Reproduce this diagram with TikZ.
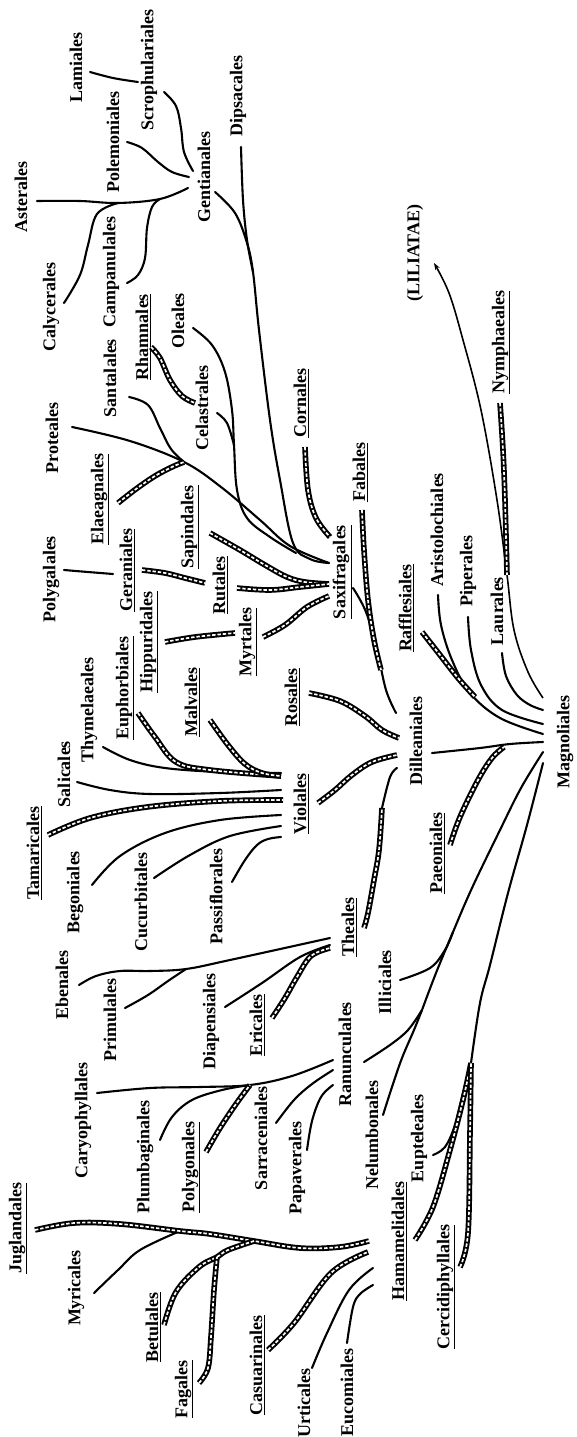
\documentclass[tikz,border=0pt]{standalone}
\usepackage{fontspec}
\setmainfont{Liberation Serif}
\usetikzlibrary{arrows.meta}
\begin{document}
\begin{tikzpicture}[x=1pt,y=-1pt,
  lbl/.style={font=\fontsize{18}{20}\selectfont\bfseries, rotate=90, inner sep=0pt},
  branch/.style={line width=2.1pt, line cap=round, line join=round},
  ladder/.style={line width=5.6pt, line join=round,
    postaction={draw=white, line width=1.7pt, dash pattern=on 3.4pt off 1.9pt}},
  sm/.style={smooth, tension=0.6}
]
\useasboundingbox (0,0) rectangle (576,1437);

% ---------------- order names ----------------
\node[lbl] (Lam) at (76,68) {Lamiales};
\node[lbl] (Scr) at (149,70) {Scrophulariales};
\node[lbl] (Pol) at (113,142) {Polemoniales};
\node[lbl] (Ast) at (21,197) {Asterales};
\node[lbl] (Gen) at (204,177) {Gentianales};
\node[lbl] (Dip) at (238,96) {Dipsacales};
\node[lbl] (Lil) at (415,253) {(LILIATAE)};
\node[lbl] (Cal) at (51,307) {Calycerales};
\node[lbl] (Cam) at (111,272) {Campanulales};
\node[lbl] (San) at (110,378) {Santalales};
\node[lbl] (Rha) at (143,337) {\underline{Rhamnales}};
\node[lbl] (Ole) at (178,321) {Oleales};
\node[lbl] (Cel) at (202,408) {Celastrales};
\node[lbl] (Pro) at (52,438) {Proteales};
\node[lbl] (Cor) at (301,403) {\underline{Cornales}};
\node[lbl] (Nym) at (501,342) {\underline{Nymphaeales}};
\node[lbl] (Ela) at (100,499) {\underline{Elaeagnales}};
\node[lbl] (Pga) at (51,579) {Polygalales};
\node[lbl] (Ger) at (127,570) {\underline{Geraniales}};
\node[lbl] (Sap) at (190,527) {\underline{Sapindales}};
\node[lbl] (Rut) at (220,585) {\underline{Rutales}};
\node[lbl] (Hip) at (149,642) {\underline{Hippuridales}};
\node[lbl] (Myr) at (248,642) {\underline{Myrtales}};
\node[lbl] (Sax) at (342,572) {\underline{Saxifragales}};
\node[lbl] (Fab) at (360,472) {\underline{Fabales}};
\node[lbl] (Ari) at (437,530) {Aristolochiales};
\node[lbl] (Raf) at (406,608) {\underline{Rafflesiales}};
\node[lbl] (Pip) at (468,571) {Piperales};
\node[lbl] (Lau) at (497,611) {Laurales};
\node[lbl] (Mag) at (565,742) {Magnoliales};
\node[lbl] (Dil) at (416,741) {Dilleaniales};
\node[lbl] (Pae) at (437,853) {\underline{Paeoniales}};
\node[lbl] (Thy) at (89,710) {Thymelaeales};
\node[lbl] (Eub) at (125,688) {\underline{Euphorbiales}};
\node[lbl] (Mal) at (192,702) {\underline{Malvales}};
\node[lbl] (Ros) at (292,697) {\underline{Rosales}};
\node[lbl] (Sal) at (64,774) {Salicales};
\node[lbl] (Tam) at (34,853) {\underline{Tamaricales}};
\node[lbl] (Beg) at (75,892) {Begoniales};
\node[lbl] (Cuc) at (141,902) {Cucurbitales};
\node[lbl] (Pas) at (216,896) {Passiflorales};
\node[lbl] (Vio) at (301,804) {\underline{Violales}};
\node[lbl] (The) at (349,927) {\underline{Theales}};
\node[lbl] (Ebe) at (62,985) {Ebenales};
\node[lbl] (Pri) at (110,1020) {Primulales};
\node[lbl] (Dia) at (211,1021) {Diapensiales};
\node[lbl] (Eri) at (257,1025) {\underline{Ericales}};
\node[lbl] (Ill) at (385,982) {Illiciales};
\node[lbl] (Ran) at (345,1054) {Ranunculales};
\node[lbl] (Nel) at (372,1135) {Nelumbonales};
\node[lbl] (Car) at (83,1120) {Caryophyllales};
\node[lbl] (Plu) at (145,1157) {Plumbaginales};
\node[lbl] (Pgo) at (191,1167) {\underline{Polygonales}};
\node[lbl] (Sar) at (261,1138) {Sarraceniales};
\node[lbl] (Pap) at (297,1168) {Papaverales};
\node[lbl] (Eup) at (419,1138) {Eupteleales};
\node[lbl] (Jug) at (18,1228) {\underline{Juglandales}};
\node[lbl] (Myc) at (76,1288) {Myricales};
\node[lbl] (Bet) at (153,1327) {\underline{Betulales}};
\node[lbl] (Fag) at (184,1389) {\underline{Fagales}};
\node[lbl] (Cas) at (257,1365) {\underline{Casuarinales}};
\node[lbl] (Urt) at (304,1403) {Urticales};
\node[lbl] (Euc) at (347,1392) {Eucomiales};
\node[lbl] (Ham) at (399,1241) {\underline{Hamamelidales}};
\node[lbl] (Cer) at (446,1287) {\underline{Cercidiphyllales}};

% ---------------- branch ends and junctions ----------------
% Gentianales group
\coordinate (gG1) at (189,177); \coordinate (gG2) at (188,188); \coordinate (gG3) at (193,171);
\coordinate (lamA) at (90,72);  \coordinate (lamB) at (138,82);
\coordinate (scrA) at (164,92); \coordinate (polA) at (127,142);
\coordinate (astA) at (37,201); \coordinate (jCal) at (118,203); \coordinate (jCam) at (160,199);
\coordinate (calA) at (64,303); \coordinate (camA) at (127,283);
\coordinate (genB) at (215,192); \coordinate (dipA) at (241,147); \coordinate (jDip) at (253,272);
% Saxifragales group
\coordinate (gS1) at (329,563); \coordinate (gS2) at (329,584); \coordinate (gS3) at (329,596);
\coordinate (proA) at (72,427); \coordinate (jSan) at (184,462);
\coordinate (sanA) at (129,397); \coordinate (elaA) at (118,503);
\coordinate (oleA) at (193,328); \coordinate (jCel) at (234,445); \coordinate (jOle) at (296,553);
\coordinate (celA) at (217,413);
\coordinate (rhaA) at (151,347); \coordinate (rhaB) at (195,403);
\coordinate (corA) at (305,447); \coordinate (corB) at (330,537);
\coordinate (sapA) at (210,533); \coordinate (rutA) at (237,588); \coordinate (myrA) at (263,637);
\coordinate (gerA) at (142,570); \coordinate (gerB) at (205,583);
\coordinate (hipA) at (165,642); \coordinate (hipB) at (235,633);
\coordinate (pgaA) at (64,570);  \coordinate (pgaB) at (113,574);
\coordinate (saxB) at (353,588); \coordinate (fabA) at (362,510); \coordinate (fabB) at (381,670);
% Dilleaniales group
\coordinate (gD1) at (396,713); \coordinate (gD2) at (399,738); \coordinate (gD3) at (397,755); \coordinate (gD4) at (397,768);
\coordinate (rosA) at (309,693); \coordinate (vioB) at (318,803);
\coordinate (theB) at (364,928); \coordinate (jThe) at (382,808);
\coordinate (dilB) at (432,753);
\coordinate (paeA) at (450,845); \coordinate (jPae) at (504,747);
% Magnoliales group
\coordinate (gM1) at (543,698); \coordinate (gM2) at (543,710); \coordinate (gM3) at (543,724);
\coordinate (gM4) at (543,734); \coordinate (gM5) at (543,742); \coordinate (gM6) at (543,752); \coordinate (gM7) at (543,763);
\coordinate (ariA) at (438,595); \coordinate (rafA) at (422,632); \coordinate (jRaf) at (475,697);
\coordinate (pipA) at (468,617); \coordinate (lauA) at (502,653);
\coordinate (nymA) at (500,403); \coordinate (jNym) at (507,575);
\coordinate (lilA) at (434,263);
\coordinate (jIll) at (453,932); \coordinate (jRan) at (422,1010); \coordinate (illA) at (400,980);
\coordinate (ranB) at (364,1062); \coordinate (nelA) at (383,1115);
\coordinate (jHam) at (471,1063); \coordinate (eupA) at (433,1155);
\coordinate (hamB) at (415,1240); \coordinate (cerB) at (460,1267);
% Theales group
\coordinate (gT1) at (330,938); \coordinate (gT2) at (330,945); \coordinate (gT3) at (330,948);
\coordinate (ebeA) at (79,985); \coordinate (jPri) at (186,969); \coordinate (priA) at (125,1008);
\coordinate (diaA) at (225,1007); \coordinate (eriA) at (272,1018);
% Ranunculales group
\coordinate (gR1) at (333,1060); \coordinate (gR2) at (333,1070); \coordinate (gR3) at (333,1085);
\coordinate (carA) at (97,1093); \coordinate (jCar) at (250,1085);
\coordinate (pluA) at (160,1140); \coordinate (pgoA) at (206,1152);
\coordinate (sarA) at (276,1123); \coordinate (papA) at (307,1150);
% Violales group
\coordinate (gV1) at (281,773); \coordinate (gV2) at (281,776); \coordinate (gV3) at (281,790);
\coordinate (gV4) at (283,800); \coordinate (gV5) at (281,815); \coordinate (gV6) at (281,826); \coordinate (gV7) at (281,837);
\coordinate (thyA) at (103,747); \coordinate (eubA) at (138,713); \coordinate (malA) at (210,720);
\coordinate (salA) at (77,782);  \coordinate (tamA) at (48,835);  \coordinate (begA) at (92,885);
\coordinate (cucA) at (154,878); \coordinate (pasA) at (232,882);
% Hamamelidales group
\coordinate (gH1) at (369,1241); \coordinate (gH2) at (368,1252); \coordinate (gH3) at (373,1268); \coordinate (gH4) at (373,1285);
\coordinate (jugA) at (35,1230); \coordinate (jMyc) at (180,1231); \coordinate (jBet) at (254,1241);
\coordinate (mycA) at (94,1293); \coordinate (betA) at (164,1325);
\coordinate (fagA) at (199,1383); \coordinate (jFag) at (217,1257);
\coordinate (casA) at (268,1350); \coordinate (urtA) at (312,1368); \coordinate (eucA) at (347,1343);

% ---------------- plain branches ----------------
\draw[branch] plot[sm] coordinates {(lamA) (113,78) (lamB)};
\draw[branch] plot[sm] coordinates {(scrA) (176,106) (181,128) (184,152) (gG3)};
\draw[branch] plot[sm] coordinates {(polA) (142,148) (158,162) (172,172) (gG1)};
\draw[branch] plot[sm] coordinates {(astA) (80,201) (jCal) (jCam) (gG2)};
\draw[branch] plot[sm] coordinates {(jCal) (97,214) (88,245) (80,275) (calA)};
\draw[branch] plot[sm] coordinates {(jCam) (152,207) (147,228) (145,258) (138,275) (camA)};
\draw[branch] plot[sm] coordinates {(genB) (235,213) (247,243) (jDip) (259,330) (270,420) (280,480) (293,543) (310,559) (gS1)};
\draw[branch] plot[sm] coordinates {(dipA) (243,200) (247,240) (jDip)};

\draw[branch] plot[sm] coordinates {(proA) (130,441) (jSan) (221,487) (260,520) (290,546) (gS1)};
\draw[branch] plot[sm] coordinates {(sanA) (148,405) (160,428) (171,449) (jSan)};
\draw[branch] plot[sm] coordinates {(oleA) (212,345) (225,372) (232,410) (jCel) (237,490) (247,518) (270,537) (jOle)};
\draw[branch] plot[sm] coordinates {(celA) (227,423) (jCel)};
\draw[branch] plot[sm] coordinates {(pgaA) (88,572) (pgaB)};
\draw[branch] plot[sm] coordinates {(saxB) (366,612) (377,650) (386,690) (gD1)};
\draw[branch] plot[sm] coordinates {(jThe) (390,777) (gD4)};
\draw[branch] plot[sm] coordinates {(dilB) (480,748) (510,744) (gM5)};

\draw[branch] plot[sm] coordinates {(ariA) (441,625) (452,660) (470,693) (500,718) (gM4)};
\draw[branch] plot[sm] coordinates {(pipA) (471,650) (481,685) (502,710) (gM3)};
\draw[branch] plot[sm] coordinates {(lauA) (506,676) (517,695) (530,705) (gM2)};
\draw[line width=1.6pt, -{Stealth[length=7pt,width=5pt]}] plot[sm] coordinates
  {(gM1) (528,672) (514,630) (jNym) (497,500) (481,410) (463,340) (449,293) (lilA)};

\draw[branch] plot[sm] coordinates {(gM6) (521,788) (500,830) (472,888) (jIll) (436,973) (jRan)};
\draw[branch] plot[sm] coordinates {(illA) (430,968) (445,950) (jIll)};
\draw[branch] plot[sm] coordinates {(ranB) (390,1045) (408,1030) (jRan)};
\draw[branch] plot[sm] coordinates {(nelA) (392,1087) (402,1058) (414,1030) (jRan)};
\draw[branch] plot[sm] coordinates {(gM7) (527,825) (508,893) (490,965) (480,1003) (jHam)};
\draw[branch] plot[sm] coordinates {(eupA) (445,1147) (455,1125) (463,1093) (jHam)};

\draw[branch] plot[sm] coordinates {(ebeA) (96,976) (120,971) (150,971) (jPri) (230,960) (gT1)};
\draw[branch] plot[sm] coordinates {(priA) (148,995) (168,981) (jPri)};
\draw[branch] plot[sm] coordinates {(diaA) (262,983) (300,957) (gT2)};

\draw[branch] plot[sm] coordinates {(carA) (150,1088) (200,1087) (jCar) (292,1076) (gR1)};
\draw[branch] plot[sm] coordinates {(pluA) (172,1117) (192,1100) (222,1090) (jCar)};
\draw[branch] plot[sm] coordinates {(sarA) (294,1100) (312,1084) (gR2)};
\draw[branch] plot[sm] coordinates {(papA) (312,1121) (321,1097) (gR3)};

\draw[branch] plot[sm] coordinates {(thyA) (130,760) (165,768) (220,772) (gV1)};
\draw[branch] plot[sm] coordinates {(salA) (110,790) (150,794) (220,793) (gV3)};
\draw[branch] plot[sm] coordinates {(begA) (120,856) (165,833) (220,820) (gV5)};
\draw[branch] plot[sm] coordinates {(cucA) (190,855) (230,836) (gV6)};
\draw[branch] plot[sm] coordinates {(pasA) (245,860) (257,845) (268,839) (gV7)};

\draw[branch] plot[sm] coordinates {(mycA) (118,1270) (140,1250) (jMyc)};
\draw[branch] plot[sm] coordinates {(urtA) (327,1333) (349,1290) (gH3)};
\draw[branch] plot[sm] coordinates {(eucA) (353,1307) (360,1294) (gH4)};

% ---------------- laddered branches ----------------
\draw[ladder] plot[sm] coordinates {(elaA) (136,489) (155,476) (172,467) (jSan)};
\draw[ladder] plot[sm] coordinates {(rhaA) (160,358) (170,380) (182,396) (rhaB)};
\draw[ladder] plot[sm] coordinates {(corA) (308,490) (316,518) (corB)};
\draw[ladder] plot[sm] coordinates {(sapA) (240,550) (265,565) (287,577) (305,582) (gS2)};
\draw[ladder] plot[sm] coordinates {(rutA) (270,590) (300,587) (gS2)};
\draw[ladder] plot[sm] coordinates {(myrA) (285,625) (307,607) (gS3)};
\draw[ladder] plot[sm] coordinates {(gerA) (165,573) (185,578) (gerB)};
\draw[ladder] plot[sm] coordinates {(hipA) (195,637) (hipB)};
\draw[ladder] plot[sm] coordinates {(fabA) (364,550) (368,600) (374,640) (fabB)};

\draw[ladder] plot[sm] coordinates {(rosA) (340,701) (365,716) (382,730) (gD2)};
\draw[ladder] plot[sm] coordinates {(vioB) (335,790) (352,775) (372,762) (gD3)};
\draw[ladder] plot[sm] coordinates {(theB) (368,913) (374,880) (379,850) (jThe)};
\draw[ladder] plot[sm] coordinates {(paeA) (460,817) (478,780) (492,758) (jPae)};

\draw[ladder] plot[sm] coordinates {(rafA) (440,655) (458,678) (jRaf)};
\draw[ladder] plot[sm] coordinates {(nymA) (503,450) (505,500) (jNym)};
\draw[ladder] plot[sm] coordinates {(hamB) (433,1207) (450,1150) (463,1100) (jHam)};
\draw[ladder] plot[sm] coordinates {(cerB) (468,1233) (470,1133) (jHam)};

\draw[ladder] plot[sm] coordinates {(eriA) (285,998) (297,977) (311,956) (gT3)};
\draw[ladder] plot[sm] coordinates {(pgoA) (220,1128) (236,1104) (jCar)};

\draw[ladder] plot[sm] coordinates {(eubA) (155,737) (176,762) (210,770) (gV2)};
\draw[ladder] plot[sm] coordinates {(malA) (228,745) (245,764) (262,773) (gV2)};
\draw[ladder] plot[sm] coordinates {(tamA) (90,818) (147,807) (220,801) (gV4)};

\draw[ladder] plot[sm] coordinates {(jugA) (74,1223) (120,1224) (jMyc) (210,1234) (jBet) (300,1248) (340,1247) (gH1)};
\draw[ladder] plot[sm] coordinates {(betA) (176,1292) (199,1267) (jFag) (228,1250) (jBet)};
\draw[ladder] plot[sm] coordinates {(fagA) (208,1368) (211,1337) (214,1290) (jFag)};
\draw[ladder] plot[sm] coordinates {(casA) (294,1323) (331,1273) (gH2)};
\end{tikzpicture}
\end{document}
